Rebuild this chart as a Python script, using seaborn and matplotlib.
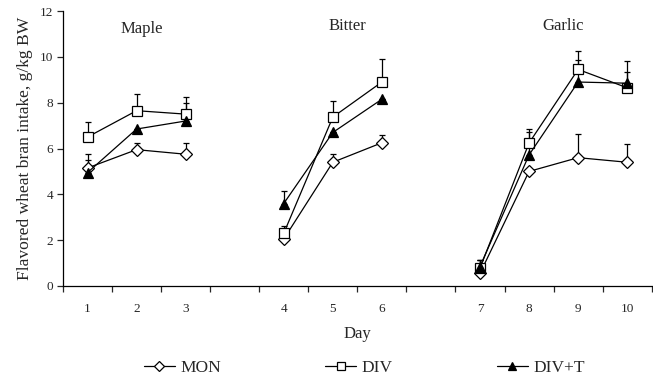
import numpy as np
import pandas as pd
import matplotlib
matplotlib.use("Agg")
import matplotlib.pyplot as plt
import seaborn as sns
from matplotlib.lines import Line2D

sns.set_style("white")
plt.rcParams['font.family'] = ['Liberation Serif', 'DejaVu Serif']

days = [1, 2, 3, 4, 5, 6, 7, 8, 9, 10]
groups = ["Maple", "Maple", "Maple", "Bitter", "Bitter", "Bitter",
          "Garlic", "Garlic", "Garlic", "Garlic"]
group_names = ["Maple", "Bitter", "Garlic"]
series = ["MON", "DIV", "DIV+T"]

mon = [5.15, 5.95, 5.75, 2.05, 5.4, 6.25, 0.55, 5.0, 5.6, 5.4]
mon_err = [0.6, 0.3, 0.5, 0.0, 0.35, 0.35, 0.6, 0.0, 1.05, 0.8]
div = [6.5, 7.65, 7.5, 2.3, 7.37, 8.9, 0.78, 6.24, 9.45, 8.65]
div_err = [0.65, 0.75, 0.75, 0.3, 0.7, 1.0, 0.35, 0.6, 0.8, 0.7]
divt = [4.95, 6.85, 7.2, 3.6, 6.7, 8.15, 0.85, 5.72, 8.9, 8.85]
divt_err = [0.55, 0.0, 0.8, 0.55, 0.0, 0.0, 0.3, 1.0, 0.95, 0.95]

xlabels = [str(d) for d in days]

# slot positions (categorical with gaps between flavours)
slot = {1: 0, 2: 1, 3: 2, 4: 4, 5: 5, 6: 6, 7: 8, 8: 9, 9: 10, 10: 11}

rows = []
for name, vals, errs in [("MON", mon, mon_err), ("DIV", div, div_err), ("DIV+T", divt, divt_err)]:
    for d, g, v, e in zip(days, groups, vals, errs):
        rows.append(dict(series=name, day=d, group=g, x=slot[d], value=v, err=e))
df = pd.DataFrame(rows)

styles = {
    "MON": dict(marker="D", mfc="white", ms=6.0),
    "DIV": dict(marker="s", mfc="white", ms=7.5),
    "DIV+T": dict(marker="^", mfc="black", ms=7.5),
}

fig = plt.figure(figsize=(6.53, 3.81), dpi=100)
ax = fig.add_axes([63 / 653, 1 - 286 / 381, 1 - 63 / 653 - 0.002, (286 - 11) / 381])

for s in series:
    st = styles[s]
    sub_s = df[df.series == s]
    # error bars (upper only)
    ax.errorbar(sub_s.x, sub_s.value, yerr=[np.zeros(len(sub_s)), sub_s.err],
                fmt="none", ecolor="black", elinewidth=0.9, capsize=2.3, capthick=0.9, zorder=2)
    for g in group_names:
        sub = sub_s[sub_s.group == g]
        sns.lineplot(data=sub, x="x", y="value", ax=ax, color="black", linewidth=0.9,
                     marker=st["marker"], markersize=st["ms"], markerfacecolor=st["mfc"],
                     markeredgecolor="black", markeredgewidth=0.9, legend=False,
                     estimator=None, sort=False, zorder=3)

ax.set_xlim(-0.5, 11.5)
ax.set_ylim(0, 12)
ax.set_yticks(np.arange(0, 13, 2))
ax.set_yticklabels([str(v) for v in range(0, 13, 2)], fontsize=9.5)
ax.set_xticks([slot[d] for d in days])
ax.set_xticklabels(xlabels, fontsize=9.5)
ax.set_xticks(np.arange(-0.5, 12, 1), minor=True)
ax.tick_params(axis="x", which="major", length=0, pad=12)
ax.tick_params(axis="x", which="minor", length=4, width=0.9, direction="out", bottom=True)
ax.tick_params(axis="y", length=4, width=0.9, direction="out", left=True, pad=3)

for sp in ["top", "right"]:
    ax.spines[sp].set_visible(False)
for sp in ["left", "bottom"]:
    ax.spines[sp].set_color("black")
    ax.spines[sp].set_linewidth(0.9)

ax.set_xlabel("Day", fontsize=12, labelpad=8)
ax.set_ylabel("Flavored wheat bran intake, g/kg BW", fontsize=12.6, labelpad=5)

title_pos = [(1.1, 11.2, "Maple"), (5.3, 11.35, "Bitter"), (9.7, 11.35, "Garlic")]
for xx, yy, t in title_pos:
    ax.text(xx, yy, t, ha="center", va="center", fontsize=12)

handles = [Line2D([0], [0], color="black", lw=0.9, marker=styles[s]["marker"],
                  markersize=styles[s]["ms"] * 0.85, markerfacecolor=styles[s]["mfc"],
                  markeredgecolor="black", markeredgewidth=0.9) for s in series]
fig.legend(handles, series, loc="center", bbox_to_anchor=(364 / 653, 1 - 368 / 381), ncol=3,
           frameon=False, fontsize=12.5, handlelength=1.8, handletextpad=0.3,
           columnspacing=6.0)

fig.savefig("out.png", dpi=100)
